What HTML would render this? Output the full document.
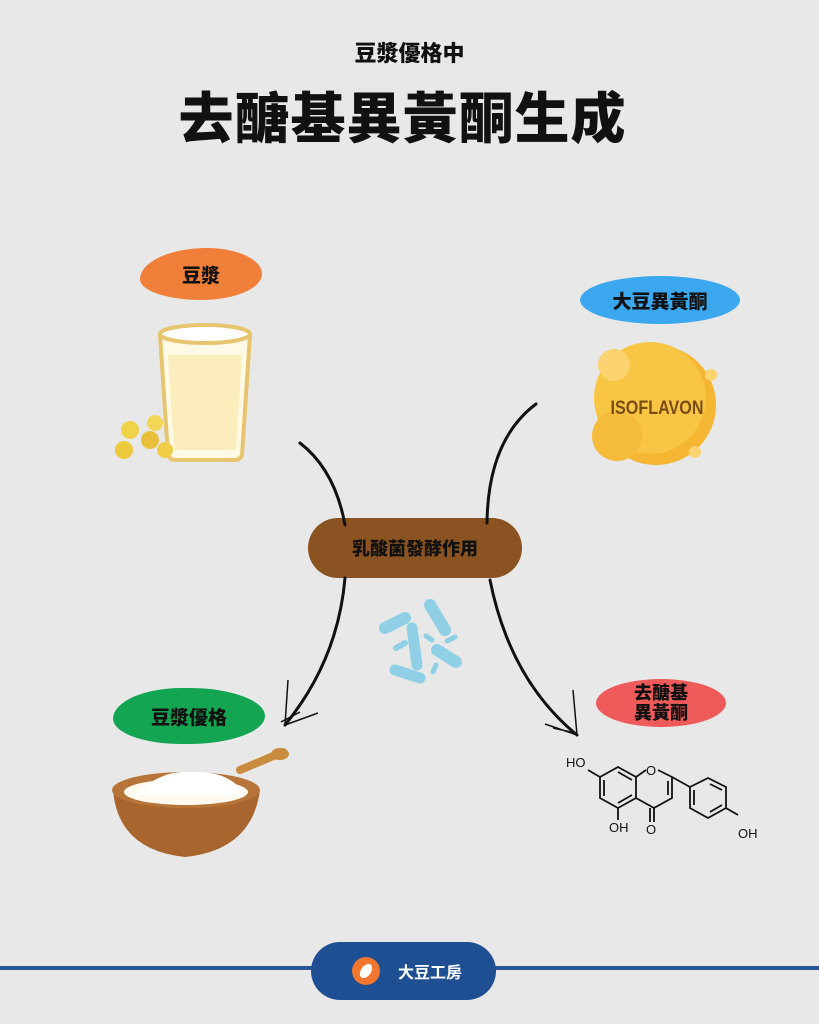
<!DOCTYPE html>
<html><head><meta charset="utf-8"><style>
body{margin:0;width:819px;height:1024px;background:#e8e8e8;position:relative;overflow:hidden;font-family:"Liberation Sans","Noto Sans CJK TC",sans-serif;}
.t{position:absolute;font-weight:900;color:#111;white-space:nowrap;}
.blob{position:absolute;display:flex;align-items:center;justify-content:center;font-weight:900;color:#111;font-family:"Liberation Sans","Noto Sans CJK TC",sans-serif;}
</style></head><body>
<div class="t" style="left:0;width:819px;top:36px;text-align:center;font-size:22px;">豆漿優格中</div>
<div class="t" style="left:0;width:805px;top:74px;text-align:center;font-size:55px;letter-spacing:1px;">去醣基異黃酮生成</div>

<div class="blob" style="left:140px;top:248px;width:122px;height:52px;background:#f08039;border-radius:55% 45% 50% 50%/60% 50% 50% 40%;font-size:19px;">豆漿</div>
<div class="blob" style="left:580px;top:276px;width:160px;height:48px;background:#3aa7ee;border-radius:50%;font-size:19px;">大豆異黃酮</div>
<div class="blob" style="left:308px;top:518px;width:214px;height:60px;background:#8a5321;border-radius:40px;font-size:18px;">乳酸菌發酵作用</div>
<div class="blob" style="left:113px;top:688px;width:152px;height:56px;background:#14a552;border-radius:45% 50% 50% 45%/55% 50% 50% 45%;font-size:19px;">豆漿優格</div>
<div class="blob" style="left:596px;top:679px;width:130px;height:48px;background:#ef5a5a;border-radius:50%;font-size:18px;line-height:20px;text-align:center;">去醣基<br>異黃酮</div>

<svg width="819" height="1024" style="position:absolute;left:0;top:0">
<path d="M160 335 L250 335 L242 455 Q240 460 235 460 L175 460 Q170 460 168 455 Z" fill="#fff9e6" stroke="#e7c46e" stroke-width="4"/>
<path d="M168 355 L242 355 L236 450 L174 450 Z" fill="#fbeebc"/>
<ellipse cx="205" cy="334" rx="45" ry="9" fill="#fff" stroke="#e7c46e" stroke-width="4"/>
<circle cx="130" cy="430" r="9" fill="#f1d34a"/><circle cx="124" cy="450" r="9" fill="#ecc93d"/>
<circle cx="150" cy="440" r="9" fill="#e9c03a"/><circle cx="155" cy="423" r="8" fill="#f3d656"/><circle cx="165" cy="450" r="8" fill="#efcd47"/>
<circle cx="656" cy="405" r="60" fill="#f4b633"/>
<circle cx="650" cy="398" r="56" fill="#f9c544"/>
<circle cx="614" cy="365" r="16" fill="#fbd370"/>
<circle cx="617" cy="436" r="25" fill="#f5bc3c"/>
<circle cx="711" cy="375" r="6" fill="#fbd370"/><circle cx="695" cy="452" r="6" fill="#fbd370"/>
<text x="657" y="414" text-anchor="middle" font-family="Liberation Sans, sans-serif" font-size="19" font-weight="bold" fill="#7a4d14" transform="scale(0.85,1) translate(116,0)">ISOFLAVON</text>
<g fill="none" stroke="#111" stroke-width="3" stroke-linecap="round">
<path d="M300 443 Q335 470 345 525"/>
<path d="M536 404 Q488 440 487 523"/>
<path d="M345 578 Q338 660 285 725"/>
<path d="M490 580 Q510 680 577 735"/>
</g>
<g fill="none" stroke="#111" stroke-width="1.5">
<path d="M285 725 L288 680 M285 725 L318 713 M281 722 L300 712"/>
<path d="M577 735 L573 690 M577 735 L545 724 M571 732 L553 728"/>
</g>
<g fill="#8fd0e6" stroke="#8fd0e6" stroke-linecap="round">
<path d="M385 628 L405 618" stroke-width="12"/>
<path d="M412 628 L417 665" stroke-width="11"/>
<path d="M430 605 L445 630" stroke-width="12"/>
<path d="M437 650 L456 662" stroke-width="12"/>
<path d="M395 670 L420 678" stroke-width="11"/>
<path d="M396 648 L405 643" stroke-width="6"/>
<path d="M433 672 L436 665" stroke-width="5"/>
<path d="M447 641 L455 637" stroke-width="5"/>
<path d="M426 636 L432 640" stroke-width="5"/>
</g>
<path d="M240 770 L283 752" stroke="#c98b3e" stroke-width="8" stroke-linecap="round"/>
<ellipse cx="280" cy="754" rx="9" ry="6" fill="#c98b3e"/>
<path d="M113 790 Q118 850 185 857 Q252 850 260 790 Z" fill="#a8662e"/>
<ellipse cx="186" cy="790" rx="74" ry="18" fill="#b8753a"/>
<ellipse cx="186" cy="792" rx="62" ry="13" fill="#fffaf0"/>
<path d="M135 795 Q160 770 190 772 Q230 770 245 795" fill="#ffffff"/>
<g fill="none" stroke="#111" stroke-width="1.8">
<path d="M618 767 L636 777 L636 798 L618 808 L600 798 L600 777 Z"/>
<path d="M604 780 L604 796 M618 803 L632 795 M632 780 L618 772"/>
<path d="M636 777 L646 770 M658 770 L672 777 L672 798 L654 808 L636 798"/>
<path d="M668 781 L668 795"/>
<path d="M654 808 L654 822 M650 808 L650 822"/>
<path d="M672 777 L690 787 M600 777 L588 770 M618 808 L618 820"/>
<path d="M690 787 L708 778 L726 787 L726 808 L708 818 L690 808 Z"/>
<path d="M710 784 L722 790 M722 805 L710 812 M694 805 L694 790"/>
<path d="M726 808 L738 815"/>
</g>
<g font-family="Liberation Sans, sans-serif" font-size="13" fill="#111">
<text x="566" y="767">HO</text><text x="646" y="775">O</text>
<text x="609" y="832">OH</text><text x="646" y="834">O</text><text x="738" y="838">OH</text>
</g>
<rect x="0" y="966" width="819" height="4" fill="#2a5597"/>
<rect x="311" y="942" width="185" height="58" rx="29" fill="#1f4f93"/>
<circle cx="366" cy="971" r="14" fill="#f0772d"/>
<ellipse cx="366" cy="971" rx="5" ry="8" fill="#fff" transform="rotate(35 366 971)"/>
<text x="398" y="978" font-family="Liberation Sans, Noto Sans CJK TC, sans-serif" font-size="16" font-weight="bold" fill="#fff">大豆工房</text>
</svg>
</body></html>
